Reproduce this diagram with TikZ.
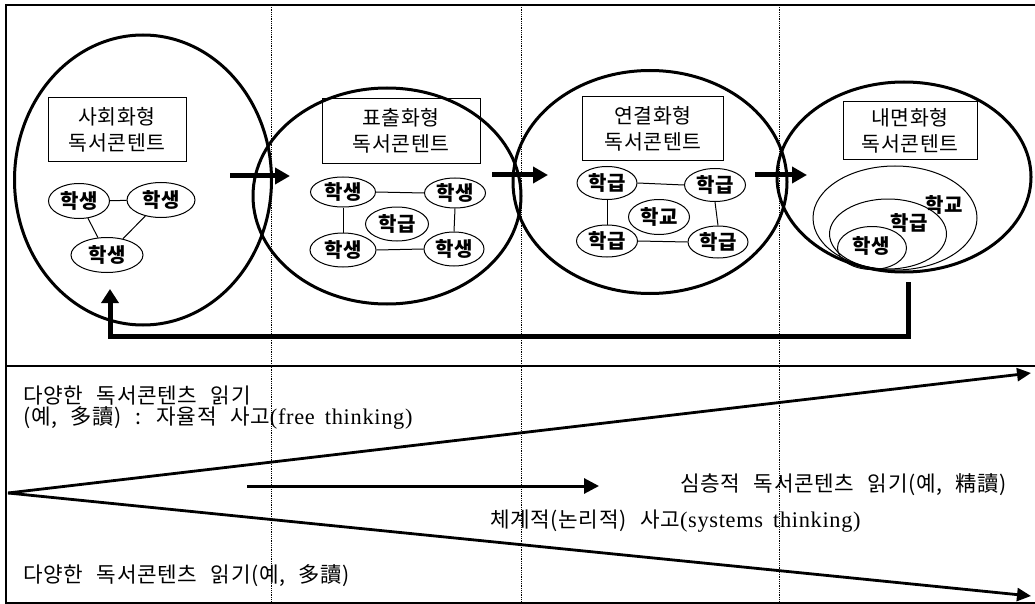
\documentclass[tikz,border=0pt]{standalone}
\usepackage{fontspec}
\setmainfont{Liberation Serif}
\newfontfamily\kr[LetterSpace=3,WordSpace=2.5]{Noto Sans CJK KR}
\newfontfamily\krb[LetterSpace=2]{Noto Sans CJK KR}
\newfontfamily\lat[LetterSpace=3,WordSpace=1.6]{Liberation Serif}
\usetikzlibrary{shapes.geometric,arrows.meta}
\tikzset{
  big/.style={draw, ellipse, line width=3pt, inner sep=0pt},
  small/.style={draw, ellipse, line width=1pt, inner sep=0pt, font=\krb\fontsize{20}{22}\selectfont\bfseries},
  lbl/.style={draw, line width=1pt, align=center, font=\kr\fontsize{20.5}{26}\selectfont, inner sep=0pt},
  flow/.style={line width=5pt, -{Triangle[length=15pt,width=16pt]}},
  thin/.style={line width=1pt},
  nest/.style={draw, ellipse, line width=1pt, inner sep=0pt},
  nestlbl/.style={font=\krb\fontsize{20}{22}\selectfont\bfseries, inner sep=0pt},
  note/.style={anchor=west, inner sep=0pt, font=\kr\fontsize{21.3}{22}\selectfont},
  latin/.style={},
  trend/.style={line width=2.8pt, -{Triangle[length=14pt,width=13pt]}},
  grid/.style={densely dotted, line width=0.8pt}
}
\newcommand{\latpart}[1]{{\lat\fontsize{22.4}{22}\selectfont #1}}
\begin{document}
\begin{tikzpicture}[x=1pt,y=-1pt]
\useasboundingbox (0,0) rectangle (1035,604);
% frame
\draw[line width=1.6pt] (1035,5) -- (6,5) -- (6,603) -- (1035,603);
\draw[line width=1.2pt] (6,366) -- (1035,366);

% big circles
\node[big, minimum width=257pt, minimum height=290pt] (c1) at (143,180) {};
\node[big, minimum width=268pt, minimum height=216pt] (c2) at (387,196) {};
\node[big, minimum width=274pt, minimum height=223pt] (c3) at (650,182) {};
\node[big, minimum width=254pt, minimum height=190pt] (c4) at (904,177) {};

% label boxes
\node[lbl, minimum width=138pt, minimum height=64pt] (b1) at (117,130) {사회화형\\독서콘텐트};
\node[lbl, minimum width=158pt, minimum height=65pt] (b2) at (401,131) {표출화형\\독서콘텐트};
\node[lbl, minimum width=141pt, minimum height=64pt] (b3) at (653,129) {연결화형\\독서콘텐트};
\node[lbl, minimum width=134pt, minimum height=58pt] (b4) at (910,131) {내면화형\\독서콘텐트};

% circle 1 ellipses
\node[small, minimum width=61pt, minimum height=35pt] (s11) at (79,201) {학생};
\node[small, minimum width=68pt, minimum height=35pt] (s12) at (161,200) {학생};
\node[small, minimum width=72pt, minimum height=35pt] (s13) at (107,255) {학생};
\draw[thin] (s11) -- (s12);
\draw[thin] (s11) -- (s13);
\draw[thin] (s12) -- (s13);

% circle 2 ellipses
\node[small, minimum width=65pt, minimum height=30pt] (s21) at (343,192) {학생};
\node[small, minimum width=61pt, minimum height=30pt] (s22) at (455,193) {학생};
\node[small, minimum width=63pt, minimum height=34pt] (s23) at (397,224) {학급};
\node[small, minimum width=66pt, minimum height=34pt] (s24) at (343,250) {학생};
\node[small, minimum width=60pt, minimum height=34pt] (s25) at (454,249) {학생};
\draw[thin] (s21.east) -- (s22.west);
\draw[thin] (s21.south) -- (s24.north);
\draw[thin] (s22.south) -- (s25.north);
\draw[thin] (s24.east) -- (s25.west);

% circle 3 ellipses
\node[small, minimum width=60pt, minimum height=33pt] (s31) at (607,183) {학급};
\node[small, minimum width=61pt, minimum height=33pt] (s32) at (715,185) {학급};
\node[small, minimum width=61pt, minimum height=35pt] (s33) at (659,217) {학교};
\node[small, minimum width=61pt, minimum height=32pt] (s34) at (607,241) {학급};
\node[small, minimum width=60pt, minimum height=32pt] (s35) at (718,242) {학급};
\draw[thin] (s31.east) -- (s32.west);
\draw[thin] (s31.south) -- (s34.north);
\draw[thin] (s32.south) -- (s35.north);
\draw[thin] (s34.east) -- (s35.west);

% circle 4 nested ellipses
\node[nest, minimum width=164pt, minimum height=104pt] (n1) at (895,218) {};
\node[nest, minimum width=117pt, minimum height=70pt] (n2) at (888,234) {};
\node[nest, minimum width=69pt, minimum height=43pt] (n3) at (872,248) {};
\node[nestlbl] (t1) at (944,205) {학교};
\node[nestlbl] (t2) at (909,223) {학급};
\node[nestlbl] (t3) at (871,246) {학생};

% flow arrows
\coordinate (a1s) at (230,176); \coordinate (a1e) at (290,176);
\coordinate (a2s) at (492,175); \coordinate (a2e) at (548,175);
\coordinate (a3s) at (755,175); \coordinate (a3e) at (807,175);
\draw[flow] (a1s) -- (a1e);
\draw[flow] (a2s) -- (a2e);
\draw[flow] (a3s) -- (a3e);

% feedback arrow
\coordinate (fbs) at (908,282);
\coordinate (fbe) at (110,289);
\draw[line width=5pt, line join=miter, -{Triangle[length=14pt,width=17pt]}] (fbs) -- (908,336) -- (110,336) -- (fbe);

% lower panel
\coordinate (apex) at (8,493);
\coordinate (up) at (1031,373);
\coordinate (dn) at (1031,596);
\draw[trend] (apex) -- (up);
\draw[trend] (apex) -- (dn);
\coordinate (ms) at (247,486);
\coordinate (me) at (599,486);
\draw[line width=3pt, -{Triangle[length=15pt,width=15pt]}] (ms) -- (me);

\node[note] (l1) at (23,396) {다양한 독서콘텐츠 읽기};
\node[note] (l2) at (23,418) {(예, 多讀) : 자율적 사고\latpart{(free thinking)}};
\node[note] (l3) at (680,485) {심층적 독서콘텐츠 읽기(예, 精讀)};
\node[note] (l4) at (490,521) {체계적(논리적) 사고\latpart{(systems thinking)}};
\node[note] (l5) at (23,576) {다양한 독서콘텐츠 읽기(예, 多讀)};

% dotted guides
\draw[grid] (271,5) -- (271,603);
\draw[grid] (521,5) -- (521,603);
\draw[grid] (779,5) -- (779,603);
\end{tikzpicture}
\end{document}
